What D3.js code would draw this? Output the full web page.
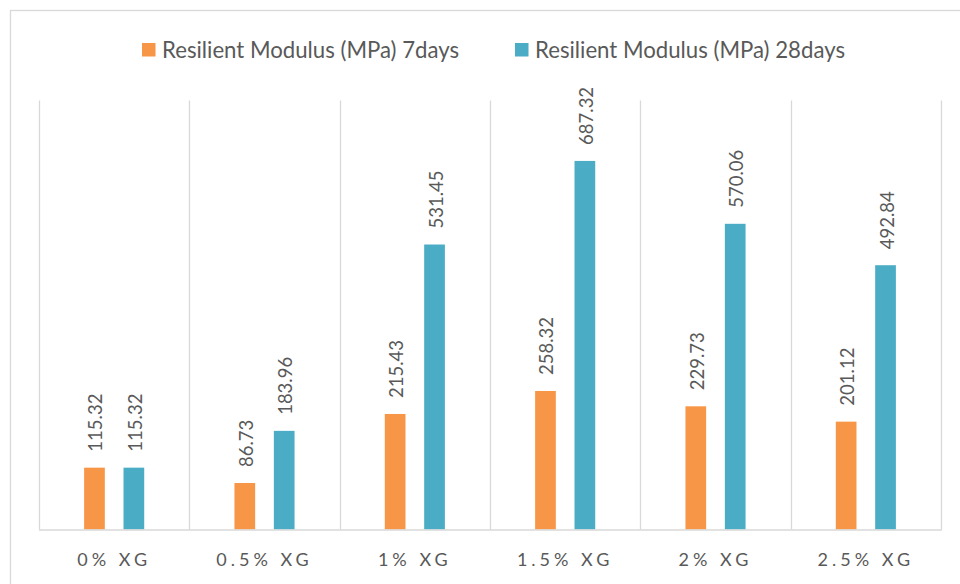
<!DOCTYPE html>
<html>
<head>
<meta charset="utf-8">
<script src="https://cdn.jsdelivr.net/npm/d3@7"></script>
<style>
  html, body { margin: 0; padding: 0; background: #fff; }
  svg { display: block; }
</style>
</head>
<body>
<svg id="chart" width="960" height="584"></svg>
<script>
// Chart data
const categories = ["0% XG", "0.5% XG", "1% XG", "1.5% XG", "2% XG", "2.5% XG"];
const seriesNames = ["Resilient Modulus (MPa) 7days", "Resilient Modulus (MPa) 28days"];
const days7 = [115.32, 86.73, 215.43, 258.32, 229.73, 201.12];
const days28 = [115.32, 183.96, 531.45, 687.32, 570.06, 492.84];
const seriesColors = ["#F79646", "#4BACC6"];

const svg = d3.select("#chart");
const W = 960, H = 584;
const plot = { left: 39, right: 941, top: 100.5, bottom: 529.5 };
const fontFamily = "Lato, 'Open Sans', sans-serif";
const textColor = "#595959";
const gridColor = "#D9D9D9";

// Chart frame
svg.append("rect")
  .attr("x", 10.5).attr("y", 10.5)
  .attr("width", W + 20).attr("height", H + 20)
  .attr("fill", "#fff").attr("stroke", gridColor).attr("stroke-width", 1.3);

// Scales
const x0 = d3.scaleBand().domain(categories).range([plot.left, plot.right]).padding(0);
const y = d3.scaleLinear().domain([0, 800]).range([plot.bottom, plot.top]);

const barW = 20.7, barGap = 18.7;
const seriesData = [days7, days28];

// Category separators
const seps = categories.map(c => x0(c)).concat([plot.right]);
svg.append("g").selectAll("line").data(seps).join("line")
  .attr("x1", d => Math.round(d) + 0.5).attr("x2", d => Math.round(d) + 0.5)
  .attr("y1", plot.top).attr("y2", plot.bottom)
  .attr("stroke", gridColor).attr("stroke-width", 1.3);

// Bars
seriesData.forEach((vals, si) => {
  const offset = si === 0 ? -(barGap / 2 + barW) : barGap / 2;
  const g = svg.append("g");
  g.selectAll("rect").data(vals).join("rect")
    .attr("x", (d, i) => x0(categories[i]) + x0.bandwidth() / 2 + offset)
    .attr("y", d => y(d))
    .attr("width", barW)
    .attr("height", d => y(0) - y(d))
    .attr("fill", seriesColors[si]);
  // Value labels, rotated above the bars
  g.selectAll("text").data(vals).join("text")
    .attr("transform", (d, i) => {
      const cx = x0(categories[i]) + x0.bandwidth() / 2 + offset + barW / 2 + 8;
      return `translate(${cx},${y(d) - 16}) rotate(-90)`;
    })
    .attr("font-family", fontFamily)
    .attr("font-size", 18.5)
    .attr("fill", textColor)
    .attr("text-anchor", "start")
    .text(d => d.toFixed(2));
});

// Baseline
svg.append("line")
  .attr("x1", plot.left).attr("x2", plot.right + 1)
  .attr("y1", plot.bottom + 0.5).attr("y2", plot.bottom + 0.5)
  .attr("stroke", gridColor).attr("stroke-width", 1.5);

// Category axis labels
svg.append("g").selectAll("text").data(categories).join("text")
  .attr("x", d => x0(d) + x0.bandwidth() / 2)
  .attr("y", 566)
  .attr("text-anchor", "middle")
  .attr("font-family", fontFamily)
  .attr("font-size", 18)
  .attr("letter-spacing", 4)
  .attr("fill", textColor)
  .text(d => d);

// Legend
const legendItems = [
  { name: seriesNames[0], color: seriesColors[0], x: 142 },
  { name: seriesNames[1], color: seriesColors[1], x: 515 }
];
const lg = svg.append("g").selectAll("g").data(legendItems).join("g")
  .attr("transform", d => `translate(${d.x},43)`);
lg.append("rect").attr("width", 13.5).attr("height", 13.5).attr("fill", d => d.color);
lg.append("text")
  .attr("x", 20).attr("y", 14.5)
  .attr("font-family", fontFamily)
  .attr("font-size", 22.2)
  .attr("fill", textColor)
  .text(d => d.name);
</script>
</body>
</html>
